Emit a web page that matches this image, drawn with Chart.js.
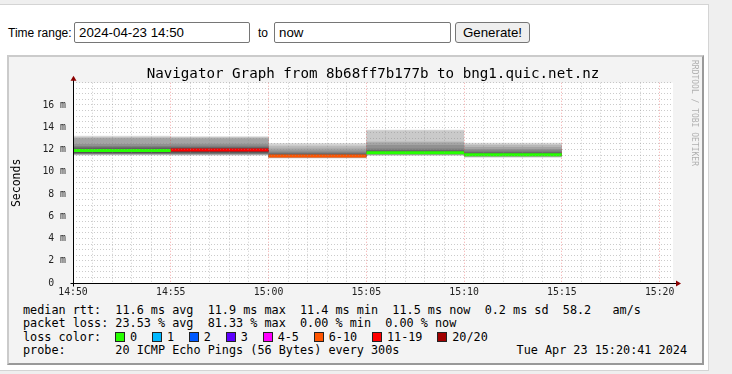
<!DOCTYPE html>
<html><head><meta charset="utf-8">
<script src="https://cdn.jsdelivr.net/npm/chart.js@4.4.1/dist/chart.umd.min.js"></script>
<style>
html,body{margin:0;padding:0;}
body{width:732px;height:374px;overflow:hidden;position:relative;background:#efefef;font-family:"Liberation Sans",Arial,sans-serif;}
#panel{position:absolute;left:-1px;top:4px;width:710px;height:367px;background:#fff;border:1px solid #d4d4d4;box-sizing:border-box;}
.lbl{position:absolute;font-size:12px;color:#000;line-height:14px;}
.inp{position:absolute;top:22px;height:21px;box-sizing:border-box;border:1px solid #767676;border-radius:2px;font:13.3px "Liberation Sans",Arial,sans-serif;padding:0 4px;background:#fff;color:#000;outline:none;margin:0;}
#btn{position:absolute;left:455px;top:22px;width:75px;height:21px;box-sizing:border-box;border:1px solid #767676;border-radius:3px;background:#efefef;font:13.3px "Liberation Sans",Arial,sans-serif;padding:0;color:#000;margin:0;}
#graph{position:absolute;left:7px;top:55px;width:697px;height:310px;box-sizing:border-box;background:#f3f3f3;border:2px solid;border-color:#cbcbcb #999 #999 #cbcbcb;}
#cv{position:absolute;left:9px;top:57px;}
.mono{font-family:"DejaVu Sans Mono",monospace;}
.leg{position:absolute;left:23px;font-size:11.8px;line-height:13px;white-space:pre;color:#000;}
#wm{position:absolute;left:690px;top:60px;writing-mode:vertical-rl;font-size:8px;line-height:9px;color:#b0b0b0;white-space:pre;}
#lossrow{position:absolute;left:115px;top:330.7px;display:flex;align-items:center;height:13px;font-size:11.8px;line-height:13px;white-space:pre;}
.item{display:flex;align-items:center;margin-right:14.8px;}
.box{width:10px;height:10px;box-sizing:border-box;border:1px solid #222;margin-right:5px;}
</style>
</head><body>
<div id="panel"></div>
<div class="lbl" style="left:8px;top:26px;">Time range:</div>
<input class="inp" style="left:74px;width:176px;" value="2024-04-23 14:50">
<div class="lbl" style="left:258px;top:26px;">to</div>
<input class="inp" style="left:274px;width:177px;" value="now">
<button id="btn">Generate!</button>
<div id="graph"></div>
<canvas id="cv" width="693" height="243"></canvas>
<div id="wm" class="mono">RRDTOOL / TOBI OETIKER</div>
<div class="leg mono" id="row1" style="top:304px;"></div>
<div class="leg mono" id="row2" style="top:317.4px;"></div>
<div class="leg mono" style="top:330.7px;">loss color:</div>
<div id="lossrow" class="mono"></div>
<div class="leg mono" id="row4" style="top:344px;"></div>
<div class="leg mono" id="row4r" style="top:344px;left:auto;right:45px;"></div>
<script>
// ---- data ----
const chartTitle = 'Navigator Graph from 8b68ff7b177b to bng1.quic.net.nz';
const timeLabels = ['14:50','14:55','15:00','15:05','15:10','15:15','15:20'];
const slotStarts = [0, 5, 10, 15, 20];          // minutes after 14:50
const slotLength = 5;
const xMax = 30 + 41/60;                          // 15:20:41
const yMax = 18;
const yLabelValues = [0, 2, 4, 6, 8, 10, 12, 14, 16];
// sorted ping RTTs (ms) per 5-minute slot
const pings1450 = [11.47,11.50,11.53,11.56,11.59,11.62,11.65,11.69,11.75,11.85,11.97,12.03,12.10,12.20,12.32,12.50,13.00,13.08,13.15,13.24];
const pings1455 = [11.45,11.49,11.52,11.55,11.58,11.61,11.65,11.70,11.77,11.88,12.00,12.06,12.12,12.22,12.34,12.52,12.98,13.06,13.13,13.20];
const pings1500 = [11.20,11.23,11.26,11.29,11.31,11.33,11.35,11.37,11.39,11.41,11.44,11.50,11.58,11.66,11.76,11.90,12.10,12.30,12.45,12.58];
const pings1505 = [11.44,11.47,11.50,11.53,11.56,11.59,11.62,11.65,11.67,11.69,11.72,11.78,11.86,11.96,12.10,12.40,12.62,12.72,13.70,13.78];
const pings1510 = [11.28,11.31,11.34,11.37,11.40,11.43,11.45,11.47,11.49,11.51,11.54,11.60,11.68,11.78,11.90,12.05,12.22,12.40,12.52,12.60];
const medianRtt = [11.92, 11.95, 11.42, 11.70, 11.52];
const lossBucket = [0, 6, 5, 0, 0];               // index into loss legend
const lossLabels = ['0','1','2','3','4-5','6-10','11-19','20/20'];
const lossColors = ['#26ff00','#00b8ff','#0059ff','#5e00ff','#ff00ff','#ff5500','#ff0000','#a10000'];
const legendRow1 = 'median rtt:  11.6 ms avg  11.9 ms max  11.4 ms min  11.5 ms now  0.2 ms sd  58.2   am/s';
const legendRow2 = 'packet loss: 23.53 % avg  81.33 % max  0.00 % min  0.00 % now';
const legendRow4 = 'probe:'.padEnd(13, ' ') + '20 ICMP Echo Pings (56 Bytes) every 300s';
const legendDate = 'Tue Apr 23 15:20:41 2024';

// ---- legend text ----
document.getElementById('row1').textContent = legendRow1;
document.getElementById('row2').textContent = legendRow2;
document.getElementById('row4').textContent = legendRow4;
document.getElementById('row4r').textContent = legendDate;
const lossRow = document.getElementById('lossrow');
lossLabels.forEach((l, i) => {
  const it = document.createElement('span'); it.className = 'item';
  const b = document.createElement('span'); b.className = 'box'; b.style.background = lossColors[i];
  const t = document.createElement('span'); t.textContent = l;
  it.appendChild(b); it.appendChild(t); lossRow.appendChild(it);
});

// ---- datasets ----
const slots = [pings1450, pings1455, pings1500, pings1505, pings1510];
const half = 10;
const datasets = [];
for (let k = 0; k < half; k++) {
  const lower = [], upper = [];
  slotStarts.forEach((m, i) => {
    const p = slots[i];
    lower.push({x: m, y: p[k]}, {x: m + slotLength, y: p[k]});
    upper.push({x: m, y: p[p.length - 1 - k]}, {x: m + slotLength, y: p[p.length - 1 - k]});
  });
  const g = Math.round(190 / half * (half - (k + 1)) + 50);
  const idx = datasets.length;
  datasets.push({data: lower, order: 30 - k, borderWidth: 0, pointRadius: 0, fill: false, borderColor: 'rgba(0,0,0,0)'});
  datasets.push({data: upper, order: 30 - k, borderWidth: 0, pointRadius: 0, fill: idx, borderColor: 'rgba(0,0,0,0)', backgroundColor: `rgb(${g},${g},${g})`});
}
slotStarts.forEach((m, i) => {
  datasets.push({data: [{x: m, y: medianRtt[i]}, {x: m + slotLength, y: medianRtt[i]}], order: 0,
    borderColor: lossColors[lossBucket[i]], borderWidth: 3, pointRadius: 0, fill: false, borderCapStyle: 'butt'});
});

const bgPlugin = {
  id: 'bg',
  beforeDraw(chart) {
    const {ctx, chartArea: a} = chart;
    ctx.save(); ctx.fillStyle = '#ffffff';
    ctx.fillRect(a.left, a.top, a.right - a.left, a.bottom - a.top);
    ctx.restore();
  }
};
const axisPlugin = {
  id: 'axes',
  afterDraw(chart) {
    const {ctx, chartArea: a} = chart;
    const L = Math.round(a.left) + 0.5, B = Math.round(a.bottom) + 0.5;
    ctx.save();
    ctx.strokeStyle = '#000'; ctx.lineWidth = 1;
    ctx.beginPath(); ctx.moveTo(L - 3, B); ctx.lineTo(a.right + 4, B); ctx.stroke();
    ctx.beginPath(); ctx.moveTo(L, B + 3); ctx.lineTo(L, a.top - 3); ctx.stroke();
    ctx.fillStyle = '#8b0000';
    ctx.beginPath(); ctx.moveTo(a.right + 8, B); ctx.lineTo(a.right + 3, B - 3); ctx.lineTo(a.right + 3, B + 3); ctx.closePath(); ctx.fill();
    ctx.beginPath(); ctx.moveTo(L, a.top - 7); ctx.lineTo(L - 3, a.top - 2); ctx.lineTo(L + 3, a.top - 2); ctx.closePath(); ctx.fill();
    ctx.restore();
  }
};

const monoTick = {family: 'DejaVu Sans Mono', size: 9.8};
const minorGrid = 'rgba(140,140,140,0.45)';
const majorGrid = 'rgba(230,60,60,0.45)';

new Chart(document.getElementById('cv'), {
  type: 'line',
  data: {datasets},
  options: {
    responsive: false, animation: false, events: [],
    layout: {padding: {left: 0, right: 29, top: 0, bottom: 0}},
    elements: {line: {tension: 0}},
    plugins: {
      legend: {display: false}, tooltip: {enabled: false},
      title: {display: true, fullSize: false, text: chartTitle, color: '#000',
        font: {family: 'DejaVu Sans Mono', size: 14.2, weight: 'normal'}, padding: {top: 8.5, bottom: 0.2}}
    },
    scales: {
      x: {
        type: 'linear', min: 0, max: xMax,
        afterBuildTicks: s => { const t = []; for (let v = 0; v <= Math.floor(xMax); v++) t.push({value: v}); s.ticks = t; },
        afterFit: s => { s.height = 17; },
        ticks: {autoSkip: false, maxRotation: 0, minRotation: 0, padding: 4, font: monoTick, color: '#222',
          callback: v => (v % slotLength === 0 ? timeLabels[v / slotLength] : '')},
        grid: {drawTicks: false, z: 1, lineWidth: 1,
          color: c => (c.tick && c.tick.value % slotLength === 0 ? majorGrid : minorGrid)},
        border: {display: false, dash: [1, 2]}
      },
      y: {
        type: 'linear', min: 0, max: yMax,
        afterBuildTicks: s => { const t = []; for (let i = 0; i <= yMax * 2; i++) t.push({value: i / 2}); s.ticks = t; },
        afterFit: s => { s.width = 64; },
        ticks: {autoSkip: false, padding: 7, font: monoTick, color: '#222',
          callback: v => (yLabelValues.includes(v) ? (v === 0 ? '0  ' : v + ' m') : '')},
        title: {display: true, text: 'Seconds', color: '#000', font: {family: 'DejaVu Sans Mono', size: 11.5}, padding: {top: 1, bottom: 0}},
        grid: {drawTicks: false, z: 1, lineWidth: 1, color: minorGrid},
        border: {display: false, dash: [1, 2]}
      }
    }
  },
  plugins: [bgPlugin, axisPlugin]
});
</script>
</body></html>
